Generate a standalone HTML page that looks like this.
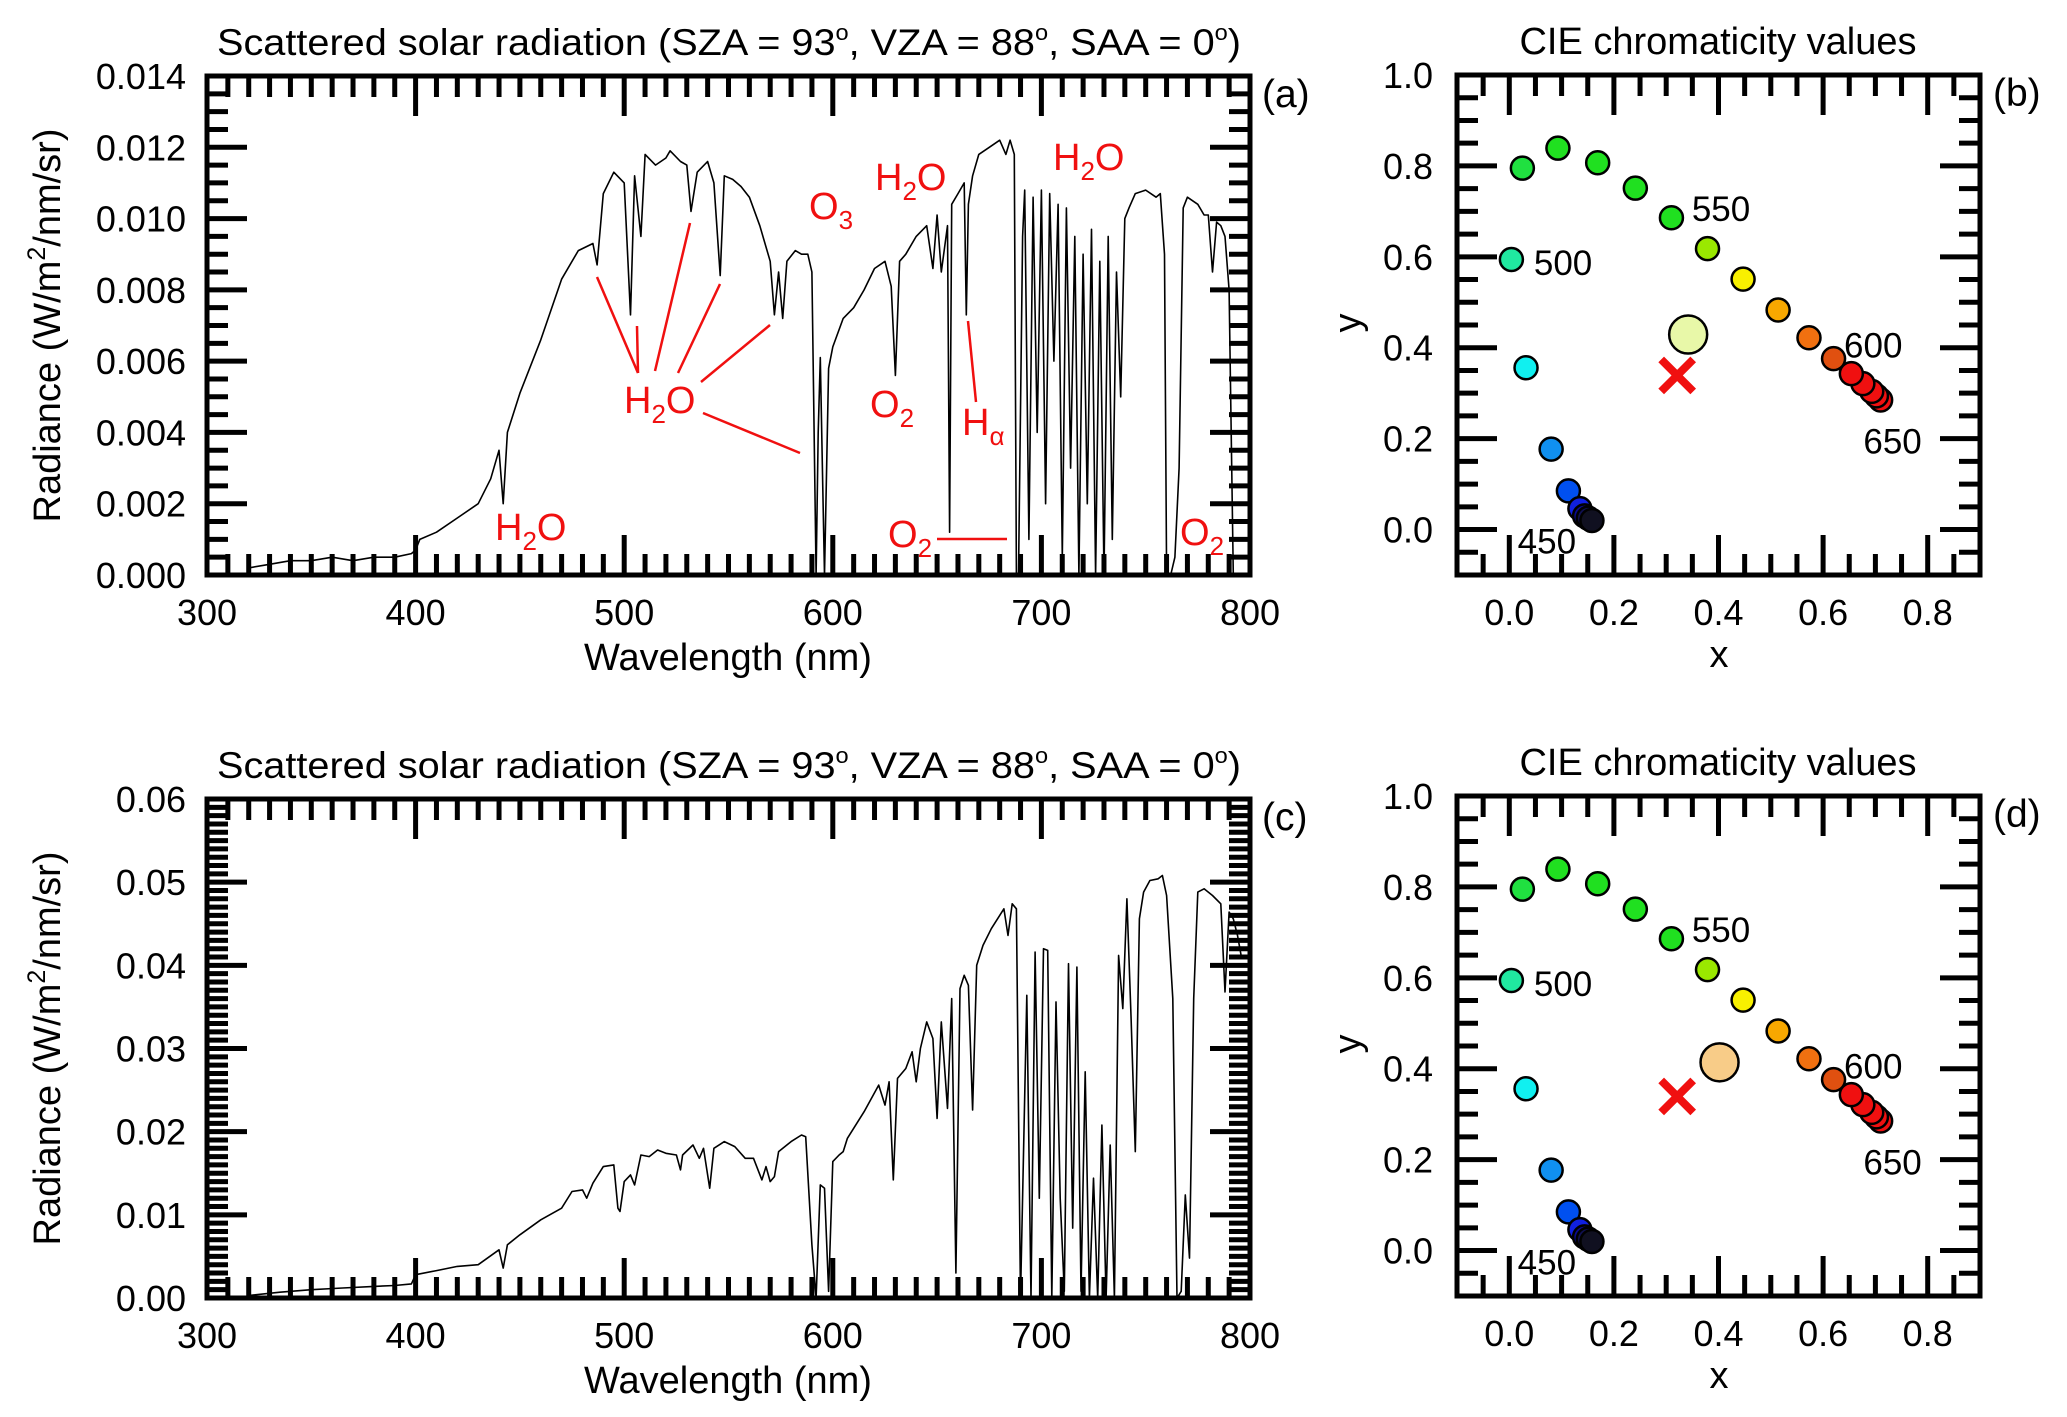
<!DOCTYPE html>
<html><head><meta charset="utf-8"><title>Scattered solar radiation and CIE chromaticity</title>
<style>
html,body{margin:0;padding:0;background:#fff;}
svg{display:block;font-family:"Liberation Sans",sans-serif;}
</style></head>
<body>
<svg id="fig" width="2067" height="1417" viewBox="0 0 2067 1417" xmlns="http://www.w3.org/2000/svg"></svg>
<script>
// ---------- Panel (a) data ----------
const wlA = [320,330,340,350,360,370,380,390,398,400,402,410,420,430,436,440,442,444,450,460,470,478,485,487,490,495,500,503,505,508,510,515,520,522,527,530,532,535,540,543,546,548,552,556,560,565,570,572,574,576,578,582,585,588,590,592,593,594,595,596,598,600,605,610,615,620,625,628,630,632,635,640,645,648,650,652,655,656,657,660,663,664,665,667,670,675,680,683,685,687,688,689,691,692,694,696,698,700,702,704,706,708,710,712,714,716,718,720,722,724,726,728,730,732,734,736,738,740,742,745,750,755,757,759,760,762,764,766,768,770,775,778,780,782,784,786,788,790,792,795];
const radA = [0.0002,0.0003,0.0004,0.0004,0.0005,0.0004,0.0005,0.0005,0.0006,0.0007,0.0010,0.0012,0.0016,0.0020,0.0027,0.0035,0.0020,0.0040,0.0051,0.0066,0.0083,0.0091,0.0093,0.0087,0.0107,0.0113,0.0110,0.0073,0.0112,0.0095,0.0118,0.0115,0.0117,0.0119,0.0116,0.0115,0.0102,0.0113,0.0116,0.0110,0.0084,0.0112,0.0111,0.0109,0.0106,0.0098,0.0088,0.0073,0.0085,0.0072,0.0088,0.0091,0.0090,0.0090,0.0085,0.0000,0.0040,0.0061,0.0030,0.0000,0.0058,0.0064,0.0072,0.0075,0.0080,0.0086,0.0088,0.0081,0.0056,0.0088,0.0090,0.0095,0.0098,0.0086,0.0101,0.0085,0.0098,0.0012,0.0104,0.0107,0.0110,0.0073,0.0104,0.0112,0.0118,0.0120,0.0122,0.0118,0.0122,0.0118,0.0000,0.0000,0.0095,0.0108,0.0010,0.0106,0.0040,0.0108,0.0020,0.0107,0.0060,0.0104,0.0005,0.0103,0.0030,0.0095,0.0000,0.0090,0.0020,0.0097,0.0000,0.0088,0.0000,0.0095,0.0010,0.0085,0.0050,0.0100,0.0103,0.0107,0.0108,0.0106,0.0107,0.0090,0.0000,0.0000,0.0005,0.0030,0.0103,0.0106,0.0104,0.0101,0.0101,0.0085,0.0099,0.0098,0.0095,0.0080,0.0000,0.0000];
const yTicksA = ["0.000","0.002","0.004","0.006","0.008","0.010","0.012","0.014"];
// ---------- Panel (c) data ----------
const wlC = [320,335,350,365,380,390,398,400,410,420,430,440,442,444,450,460,470,475,480,482,485,490,495,497,498,500,503,505,508,512,516,520,525,527,528,533,536,538,541,543,548,553,558,562,566,568,570,572,574,580,585,587,590,592,594,596,598,600,603,605,607,615,622,625,627,629,631,635,638,640,642,645,648,650,652,655,657,659,661,663,665,667,669,672,676,680,682,684,686,688,690,693,695,697,699,701,703,705,707,709,711,713,715,717,719,721,723,725,727,729,731,733,735,737,739,741,743,745,747,749,752,756,758,760,763,765,767,769,771,773,775,778,782,786,788,790,792,794,796];
const radC = [0.0003,0.0007,0.0010,0.0012,0.0014,0.0015,0.0017,0.0028,0.0033,0.0038,0.0040,0.0058,0.0036,0.0064,0.0076,0.0094,0.0108,0.0128,0.0130,0.0120,0.0138,0.0158,0.0160,0.0108,0.0104,0.0140,0.0148,0.0136,0.0172,0.0170,0.0178,0.0174,0.0172,0.0154,0.0172,0.0184,0.0168,0.0180,0.0132,0.0180,0.0188,0.0182,0.0168,0.0168,0.0142,0.0158,0.0140,0.0146,0.0176,0.0188,0.0196,0.0194,0.0064,0.0000,0.0136,0.0132,0.0008,0.0164,0.0172,0.0176,0.0192,0.0224,0.0256,0.0232,0.0260,0.0142,0.0264,0.0276,0.0296,0.0260,0.0300,0.0332,0.0312,0.0216,0.0332,0.0228,0.0360,0.0030,0.0372,0.0388,0.0376,0.0226,0.0400,0.0424,0.0444,0.0460,0.0468,0.0436,0.0474,0.0468,0.0000,0.0364,0.0000,0.0416,0.0120,0.0420,0.0418,0.0000,0.0356,0.0120,0.0008,0.0402,0.0084,0.0398,0.0008,0.0272,0.0000,0.0144,0.0000,0.0208,0.0000,0.0184,0.0000,0.0412,0.0348,0.0480,0.0336,0.0176,0.0456,0.0488,0.0502,0.0504,0.0508,0.0484,0.0360,0.0000,0.0008,0.0124,0.0048,0.0360,0.0488,0.0492,0.0484,0.0474,0.0368,0.0464,0.0456,0.0436,0.0408];
const yTicksC = ["0.00","0.01","0.02","0.03","0.04","0.05","0.06"];
const xTicksWl = ["300","400","500","600","700","800"];
// ---------- Chromaticity data ----------
const cieX = [0.158,0.151,0.144,0.135,0.113,0.080,0.032,0.004,0.025,0.093,0.169,0.241,0.310,0.379,0.447,0.514,0.573,0.620,0.654,0.676,0.693,0.702,0.710];
const cieY = [0.020,0.025,0.030,0.046,0.085,0.177,0.356,0.594,0.795,0.839,0.807,0.751,0.686,0.618,0.551,0.483,0.422,0.376,0.343,0.321,0.304,0.294,0.285];
const cieColors = ["#101020","#101050","#0a0a90","#1020e0","#0050f0","#1090f0","#10f0f0","#20e8a0","#20e040","#20e020","#20e020","#20e020","#20e020","#9ae800","#f8f000","#f8a800","#f07010","#e05010","#f01010","#f01010","#f01010","#f01010","#f01010"];
const wlLabels = ["450","500","550","600","650"];
const wlLabelX = [0.016,0.047,0.349,0.640,0.677];
const wlLabelY = [-0.024,0.589,0.707,0.407,0.196];
const whiteB = [0.342,0.429];
const whiteD = [0.402,0.414];
const refX = [0.321,0.339];
const cieTicks = ["0.0","0.2","0.4","0.6","0.8","1.0"];

const NS="http://www.w3.org/2000/svg";
const svg=document.getElementById('fig');
function mk(tag,attrs,parent){const e=document.createElementNS(NS,tag);for(const k in attrs)e.setAttribute(k,attrs[k]);(parent||svg).appendChild(e);return e;}
function txt(s,x,y,size,anchor,parent,color){const t=mk('text',{x:x,y:y,'font-size':size,'text-anchor':anchor||'start',fill:color||'#000'},parent);t.textContent=s;return t;}

function spectrumPanel(top,bottom,ymax,yMinorStep,yTickLabels,wl,rad,title,letter,key){
  const L=207,R=1250;
  const g=mk('g',{});
  
  
  const sx=v=>L+(v-300)/500*(R-L);
  const sy=v=>bottom-v/ymax*(bottom-top);
  const tg=mk('g',{stroke:'#000','stroke-width':5},g);
  
  
  for(let w=310;w<800;w+=10){const major=w%100===0;const len=major?40:21;
    mk('line',{x1:sx(w),x2:sx(w),y1:bottom,y2:bottom-len},tg);mk('line',{x1:sx(w),x2:sx(w),y1:top,y2:top+len},tg);}
  const nMinor=Math.round(ymax/yMinorStep);const majEvery=Math.round(nMinor/(yTickLabels.length-1));
  for(let i=1;i<nMinor;i++){const major=i%majEvery===0;const len=major?40:21;const y=sy(i*yMinorStep);
    mk('line',{x1:L,x2:L+len,y1:y,y2:y},tg);mk('line',{x1:R,x2:R-len,y1:y,y2:y},tg);}
  let d='';for(let i=0;i<wl.length;i++){d+=(i?'L':'M')+sx(wl[i]).toFixed(1)+' '+sy(rad[i]).toFixed(1);}
  const p=mk('path',{d:d,fill:'none',stroke:'#000','stroke-width':1.6,'stroke-linejoin':'round'},g);
  
  
  const f=mk('rect',{x:L,y:top,width:R-L,height:bottom-top,fill:'none',stroke:'#000','stroke-width':5},g);
  
  
  for(let i=0;i<yTickLabels.length;i++){const t=txt(yTickLabels[i],186,sy(i*ymax/(yTickLabels.length-1))+13,36,'end',g);
    
    }
  for(let i=0;i<xTicksWl.length;i++){const t=txt(xTicksWl[i],sx(300+100*i),bottom+50,36,'middle',g);
    
    }
  const xt=txt('Wavelength (nm)',728,bottom+95,38,'middle',g);
  
  
  const yt=mk('text',{x:0,y:0,'font-size':38,'text-anchor':'middle',transform:`translate(60,${(top+bottom)/2}) rotate(-90)`},g);
  yt.innerHTML='Radiance (W/m<tspan dy="-15" font-size="25">2</tspan><tspan dy="15">/nm/sr)</tspan>';
  
  
  const tt=mk('text',{x:729,y:top-21,'font-size':37,'text-anchor':'middle',textLength:1024,lengthAdjust:'spacingAndGlyphs'},g);
  tt.innerHTML='Scattered solar radiation (SZA = 93<tspan dy="-15" font-size="22">o</tspan><tspan dy="15">, VZA = 88</tspan><tspan dy="-15" font-size="22">o</tspan><tspan dy="15">, SAA =  0</tspan><tspan dy="-15" font-size="22">o</tspan><tspan dy="15">)</tspan>';
  
  
  const pl=txt(letter,1262,top+31,39,'start',g);
  
  
  return g;
}

function ciePanel(top,white,whiteColor,letter,key){
  const L=1457,R=1980,bottom=top+500;
  const g=mk('g',{});
  
  
  const sx=v=>L+(v+0.1)/1.0*(R-L);
  const sy=v=>bottom-(v+0.1)/1.1*(bottom-top);
  const tg=mk('g',{stroke:'#000','stroke-width':5},g);
  
  
  for(let i=-1;i<18;i++){const v=i*0.05;if(v<=-0.1||v>=0.9)continue;const major=i%4===0;const len=major?40:21;
    mk('line',{x1:sx(v),x2:sx(v),y1:bottom,y2:bottom-len},tg);mk('line',{x1:sx(v),x2:sx(v),y1:top,y2:top+len},tg);}
  for(let i=-1;i<20;i++){const v=i*0.05;if(v<=-0.1||v>=1.0)continue;const major=i%4===0;const len=major?40:21;
    mk('line',{x1:L,x2:L+len,y1:sy(v),y2:sy(v)},tg);mk('line',{x1:R,x2:R-len,y1:sy(v),y2:sy(v)},tg);}
  const f=mk('rect',{x:L,y:top,width:R-L,height:bottom-top,fill:'none',stroke:'#000','stroke-width':5},g);
  
  
  for(let i=cieX.length-1;i>=0;i--){const c=mk('circle',{cx:sx(cieX[i]),cy:sy(cieY[i]),r:11.5,fill:cieColors[i],stroke:'#000','stroke-width':2.5},g);
    
    }
  for(let i=0;i<wlLabels.length;i++){const t=txt(wlLabels[i],sx(wlLabelX[i]),sy(wlLabelY[i])+13,35,'start',g);
    
    }
  const wc=mk('circle',{cx:sx(white[0]),cy:sy(white[1]),r:19,fill:whiteColor,stroke:'#000','stroke-width':2.5},g);
  
  
  const cx=sx(refX[0]),cy=sy(refX[1]);
  const xm=mk('path',{d:`M${cx-16} ${cy-16}L${cx+16} ${cy+16}M${cx+16} ${cy-16}L${cx-16} ${cy+16}`,stroke:'#f01010','stroke-width':8,fill:'none'},g);
  
  
  for(let i=0;i<5;i++){const v=i*0.2;const t=txt(cieTicks[i],sx(v),bottom+50,36,'middle',g);
    
    }
  for(let i=0;i<6;i++){const v=i*0.2;const t=txt(cieTicks[i],1433,sy(v)+13,36,'end',g);
    
    }
  const xt=txt('x',1719,bottom+92,38,'middle',g);
  
  
  const yt=mk('text',{x:0,y:0,'font-size':38,'text-anchor':'middle',transform:`translate(1360,${top+248}) rotate(-90)`},g);
  yt.textContent='y';
  
  
  const tt=txt('CIE chromaticity values',1718,top-21,38,'middle',g);
  
  
  const pl=txt(letter,1993,top+31,39,'start',g);
  
  
}

spectrumPanel(76,575,0.014,0.0005,yTicksA,wlA,radA,'','(a)','a');
spectrumPanel(799,1298,0.06,0.001,yTicksC,wlC,radC,'','(c)','c');
ciePanel(75,whiteB,'#e8f8a8','(b)','b');
ciePanel(796,whiteD,'#f8cc88','(d)','d');

// ---------- red annotations on panel (a) ----------
const ann=mk('g',{fill:'#f01010',stroke:'none'});


function chem(base,sub,x,y,name){const t=mk('text',{x:x,y:y,'font-size':38,fill:'#f01010'},ann);
  t.innerHTML=base[0]+'<tspan dy="10" font-size="26">'+sub+'</tspan><tspan dy="-10">'+base.slice(1)+'</tspan>';
  
  }
chem('HO','2',495,540,'label-h2o-440');
chem('HO','2',624,413,'label-h2o-visible');
chem('HO','2',875,190,'label-h2o-650');
chem('HO','2',1053,170,'label-h2o-720');
chem('O','3',809,219,'label-o3');
chem('O','2',870,417,'label-o2-630');
chem('O','2',888,547,'label-o2-690');
chem('O','2',1180,545,'label-o2-760');
const ha=mk('text',{x:962,y:435,'font-size':38,fill:'#f01010'},ann);
ha.innerHTML='H<tspan dy="10" font-size="26">α</tspan>';


const lines=[[638,373,597,277],[638,373,637,326],[655,371,690,223],[678,373,720,284],[701,382,770,325],[703,413,800,453],[968,321,976,402],[937,539,1007,539]];
const lg=mk('g',{stroke:'#f01010','stroke-width':2.5},ann);


for(const l of lines){const e=mk('line',{x1:l[0],y1:l[1],x2:l[2],y2:l[3]},lg);
  
  }
</script>
</body></html>
